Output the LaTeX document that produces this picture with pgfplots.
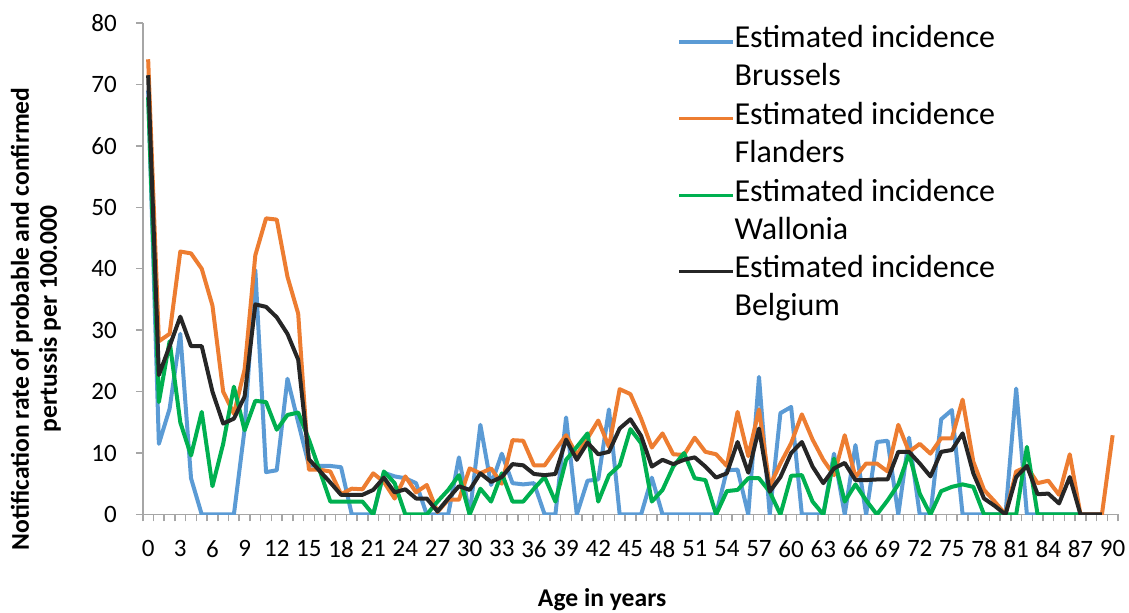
\documentclass[border=0pt]{standalone}
\usepackage{pgfplots}
\pgfplotsset{compat=1.18}
\usepackage{pgfplotstable}
\usepackage{fontspec}
\setmainfont{Carlito}

\definecolor{bru}{HTML}{5B9BD5}
\definecolor{fla}{HTML}{ED7D31}
\definecolor{wal}{HTML}{00B050}
\definecolor{bel}{HTML}{262626}
\definecolor{axgray}{HTML}{A6A6A6}

% notification rate per 100.000 by age (years)
\pgfplotstableread{
age bru fla wal bel
0 69.0 74.1 67.9 71.5
1 11.5 28.2 18.3 22.7
2 17.2 29.4 28.2 27.4
3 29.4 42.8 15.0 32.2
4 5.9 42.5 9.6 27.4
5 0 40.0 16.7 27.4
6 0 34.0 4.6 20.0
7 0 20.0 11.5 14.8
8 0 16.4 20.8 15.6
9 13.9 23.6 13.7 19.2
10 39.8 42.2 18.5 34.2
11 6.9 48.2 18.3 33.8
12 7.2 48.0 13.8 32.1
13 22.1 38.7 16.2 29.4
14 15.0 32.7 16.6 25.2
15 8.0 7.3 12.2 9.0
16 7.9 7.3 7.2 7.1
17 7.9 7.0 2.1 5.2
18 7.7 3.3 2.1 3.2
19 0 4.2 2.1 3.2
20 0 4.1 2.1 3.2
21 0 6.7 0 4.0
22 6.8 5.3 7.0 6.0
23 6.2 2.6 5.1 3.6
24 5.9 6.2 0 4.1
25 5.1 3.6 0 2.6
26 0 4.8 0 2.6
27 0 0.4 2.1 0.5
28 0 2.4 4.0 2.6
29 9.3 2.4 6.4 4.6
30 0 7.5 0 4.0
31 14.6 6.7 4.2 6.7
32 4.8 7.5 2.1 5.3
33 9.9 5.0 6.7 6.1
34 5.1 12.1 2.1 8.2
35 4.9 12.0 2.1 8.0
36 5.1 8.0 4.2 6.6
37 0 8.0 6.1 6.4
38 0 10.5 2.1 6.6
39 15.8 12.9 8.9 12.2
40 0 9.7 11.0 8.9
41 5.5 12.4 13.2 11.7
42 5.7 15.3 2.1 9.8
43 17.1 11.0 6.4 10.2
44 0 20.4 8.0 14.0
45 0 19.6 13.9 15.5
46 0 15.6 11.6 12.8
47 6.0 10.9 2.1 7.8
48 0 13.2 4.0 8.9
49 0 9.8 7.8 8.2
50 0 9.7 10.0 8.9
51 0 12.5 5.9 9.3
52 0 10.2 5.6 7.8
53 0 9.8 0 6.0
54 7.2 7.9 3.8 6.7
55 7.3 16.7 4.0 11.8
56 0 9.5 5.9 6.8
57 22.4 17.1 5.9 14.0
58 0 4.6 3.7 3.7
59 16.5 8.3 0 6.1
60 17.5 11.6 6.3 10.0
61 0 16.3 6.4 11.8
62 0 12.2 2.1 7.8
63 0 8.9 0 5.1
64 9.9 6.4 9.1 7.5
65 0 12.9 2.1 8.4
66 11.3 6.1 4.9 5.6
67 0 8.3 2.3 5.6
68 11.8 8.3 0 5.7
69 12.0 7.0 2.3 5.7
70 0 14.6 4.9 10.2
71 12.5 10.2 9.9 10.2
72 0 11.5 3.4 8.3
73 0 9.9 0 6.2
74 15.5 12.4 3.8 10.2
75 17.0 12.4 4.5 10.5
76 0 18.7 4.9 13.2
77 0 8.6 4.5 6.7
78 0 4.0 0 2.6
79 0 2.1 0 1.4
80 0 0 0 0
81 20.5 7.0 0 6.1
82 0 7.8 11.0 7.9
83 0 5.1 0 3.3
84 0 5.5 0 3.4
85 0 3.2 0 1.8
86 0 9.8 0 6.1
87 0 0 0 0
88 0 0 nan 0
89 0 0 nan 0
90 nan 12.9 nan nan
}\rates

\begin{document}
\begin{tikzpicture}
\begin{axis}[
  scale only axis,
  width=487.6pt, height=245.75pt,
  xmin=-0.5, xmax=90.5, ymin=0, ymax=80,
  axis lines=left,
  axis line style={-, draw=axgray, line width=0.75pt},
  tick align=outside,
  xtick={0,3,...,90},
  minor xtick={-0.5,0.5,...,90.5},
  major x tick style={draw=none},
  minor x tick style={draw=axgray, line width=0.75pt},
  minor tick length=3.5pt,
  ytick={0,10,...,80},
  major y tick style={draw=axgray, line width=0.75pt},
  major tick length=3.5pt,
  /pgf/number format/assume math mode=true,
  tick label style={font=\fontsize{12.5pt}{15pt}\selectfont, text=black},
  xticklabel style={anchor=north, yshift=-6pt},
  yticklabel style={anchor=east, xshift=-6pt},
  every axis x label/.style={at={(rel axis cs:0.471,0)}, yshift=-42.75pt, anchor=center},
  every axis y label/.style={at={(rel axis cs:0,0.398)}, xshift=-53.4pt, rotate=90, anchor=center},
  label style={font=\fontsize{12.8pt}{14pt}\selectfont\bfseries, align=center},
  xlabel={Age in years},
  ylabel={Notification rate of probable and confirmed\\pertussis per 100.000},
  unbounded coords=jump,
  every axis plot/.append style={line width=2pt, line join=round, no markers},
  legend style={
    at={(rel axis cs:0,1)}, anchor=north west, xshift=267.1pt, yshift=1.1pt,
    draw=none, fill=none, inner sep=0pt, row sep=4.5pt,
    font=\fontsize{16pt}{19pt}\selectfont,
    nodes={inner sep=0pt, align=left, anchor=west},
    /tikz/every even column/.append style={column sep=4.5pt},
  },
  legend cell align=left,
  legend image code/.code={\draw[#1, line width=1.6pt] (0pt,6.5pt) -- (27pt,6.5pt);},
]
\coordinate (o) at (rel axis cs:0,0);
\addplot[bru] table[x=age, y=bru] {\rates};
\addlegendentry{\strut Estimated incidence\\\strut Brussels}
\addplot[fla] table[x=age, y=fla] {\rates};
\addlegendentry{\strut Estimated incidence\\\strut Flanders}
\addplot[wal] table[x=age, y=wal] {\rates};
\addlegendentry{\strut Estimated incidence\\\strut Wallonia}
\addplot[bel] table[x=age, y=bel] {\rates};
\addlegendentry{\strut Estimated incidence\\\strut Belgium}
\end{axis}
\pgfresetboundingbox
\path[use as bounding box] ([shift={(-71.4pt,-49.25pt)}]o) rectangle ([shift={(493.1pt,257.25pt)}]o);
\end{tikzpicture}
\end{document}
